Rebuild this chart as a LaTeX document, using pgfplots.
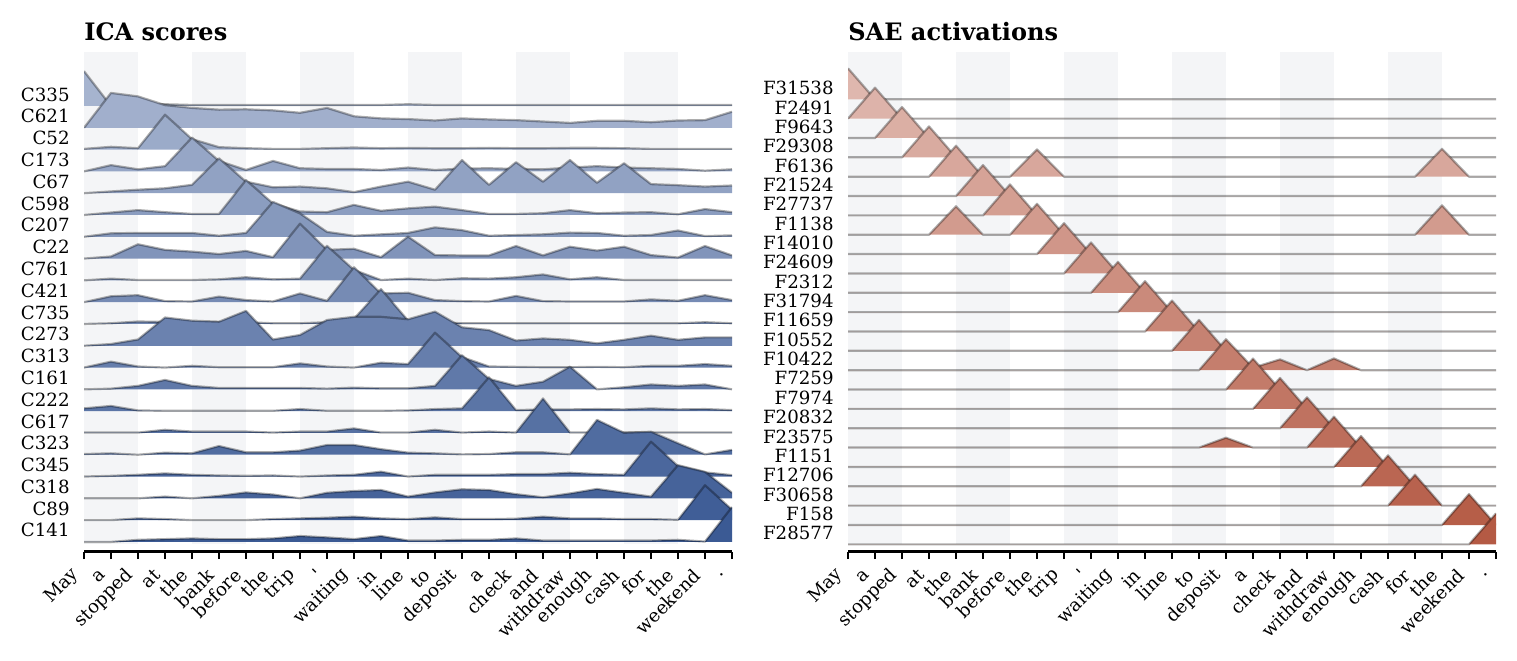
\documentclass[border=0pt]{standalone}
\usepackage{pgfplots}
\usepackage{pgfplotstable}
\pgfplotsset{compat=1.18}
\usepackage{fontspec}
\setmainfont{DejaVu Serif}

\definecolor{icaLight}{HTML}{A6B4CF}
\definecolor{icaDark}{HTML}{3B5A94}
\definecolor{saeLight}{HTML}{DFB7AE}
\definecolor{saeDark}{HTML}{B45A44}
\definecolor{band}{HTML}{F4F5F7}

\newcommand{\tickfont}{\fontsize{9.1pt}{11pt}\selectfont}

% ICA scores, one row per component, one column per token
\pgfplotstableread{
name t0 t1 t2 t3 t4 t5 t6 t7 t8 t9 t10 t11 t12 t13 t14 t15 t16 t17 t18 t19 t20 t21 t22 t23 t24
C335 1.00 0.00 0.05 0.05 0.03 0.03 0.03 0.03 0.03 0.03 0.03 0.03 0.05 0.03 0.03 0.03 0.03 0.03 0.03 0.03 0.03 0.03 0.03 0.03 0.03
C621 0.00 1.00 0.90 0.65 0.57 0.52 0.53 0.50 0.43 0.57 0.33 0.27 0.25 0.21 0.27 0.24 0.22 0.18 0.14 0.20 0.20 0.16 0.21 0.22 0.46
C52 0.02 0.08 0.04 1.00 0.30 0.07 0.04 0.02 0.02 0.04 0.06 0.04 0.05 0.04 0.04 0.05 0.04 0.04 0.05 0.05 0.04 0.02 0.02 0.02 0.02
C173 0.00 0.18 0.06 0.15 0.97 0.30 0.04 0.30 0.09 0.07 0.07 0.04 0.11 0.04 0.08 0.09 0.07 0.06 0.11 0.15 0.11 0.09 0.07 0.02 0.06
C67 0.00 0.05 0.10 0.14 0.24 1.00 0.33 0.17 0.19 0.14 0.03 0.19 0.33 0.10 0.95 0.24 0.89 0.33 0.95 0.30 0.86 0.26 0.23 0.19 0.22
C598 0.00 0.07 0.14 0.08 0.03 0.03 1.00 0.33 0.10 0.08 0.29 0.12 0.19 0.24 0.14 0.03 0.03 0.05 0.14 0.05 0.07 0.08 0.02 0.17 0.08
C207 0.00 0.10 0.11 0.11 0.11 0.03 0.11 1.00 0.67 0.14 0.03 0.07 0.11 0.27 0.19 0.03 0.05 0.07 0.12 0.11 0.03 0.05 0.18 0.02 0.04
C22 0.00 0.06 0.41 0.25 0.20 0.13 0.22 0.04 1.00 0.25 0.28 0.04 0.63 0.10 0.09 0.09 0.36 0.09 0.34 0.23 0.34 0.10 0.03 0.36 0.09
C761 0.00 0.05 0.01 0.01 0.01 0.03 0.09 0.03 0.05 0.99 0.30 0.01 0.05 0.01 0.06 0.05 0.09 0.17 0.03 0.09 0.01 0.01 0.01 0.01 0.01
C421 0.00 0.17 0.20 0.03 0.02 0.16 0.06 0.02 0.25 0.04 1.00 0.25 0.27 0.06 0.03 0.02 0.18 0.03 0.02 0.02 0.02 0.08 0.04 0.20 0.06
C735 0.00 0.02 0.07 0.06 0.05 0.05 0.05 0.02 0.02 0.05 0.15 1.00 0.10 0.05 0.02 0.02 0.02 0.02 0.02 0.02 0.02 0.02 0.02 0.05 0.02
C273 0.00 0.05 0.18 0.81 0.72 0.69 1.00 0.18 0.31 0.74 0.83 0.83 0.76 0.98 0.53 0.45 0.15 0.21 0.17 0.07 0.17 0.29 0.17 0.24 0.24
C313 0.00 0.17 0.03 0.00 0.05 0.01 0.01 0.01 0.12 0.03 0.00 0.14 0.10 1.00 0.30 0.03 0.02 0.01 0.01 0.02 0.01 0.05 0.05 0.10 0.05
C161 0.00 0.02 0.10 0.27 0.10 0.04 0.04 0.04 0.04 0.02 0.05 0.03 0.03 0.10 0.98 0.30 0.10 0.22 0.65 0.00 0.06 0.14 0.10 0.14 0.00
C222 0.08 0.15 0.02 0.01 0.01 0.01 0.01 0.01 0.06 0.01 0.01 0.01 0.02 0.06 0.08 0.97 0.03 0.05 0.05 0.06 0.05 0.08 0.05 0.06 0.03
C617 0.01 0.01 0.01 0.09 0.04 0.04 0.04 0.01 0.04 0.04 0.13 0.01 0.01 0.09 0.01 0.04 0.01 0.99 0.01 0.01 0.01 0.01 0.01 0.01 0.01
C323 0.02 0.04 0.00 0.06 0.04 0.25 0.07 0.07 0.12 0.28 0.28 0.16 0.06 0.04 0.01 0.02 0.07 0.07 0.01 1.00 0.63 0.66 0.33 0.01 0.14
C345 0.00 0.02 0.05 0.09 0.05 0.03 0.02 0.03 0.00 0.03 0.05 0.14 0.00 0.05 0.05 0.05 0.07 0.07 0.11 0.07 0.05 1.00 0.30 0.12 0.04
C318 0.00 0.00 0.00 0.05 0.00 0.07 0.17 0.11 0.00 0.16 0.21 0.24 0.05 0.17 0.26 0.24 0.12 0.03 0.14 0.27 0.16 0.05 0.95 0.76 0.16
C89 0.00 0.00 0.05 0.03 0.00 0.00 0.00 0.03 0.05 0.07 0.10 0.05 0.03 0.08 0.03 0.03 0.04 0.10 0.05 0.05 0.03 0.03 0.01 1.00 0.30
C141 0.00 0.00 0.06 0.08 0.10 0.08 0.08 0.10 0.17 0.13 0.08 0.17 0.04 0.04 0.06 0.06 0.10 0.04 0.04 0.04 0.04 0.04 0.06 0.01 1.00
}\icarows
\pgfplotstabletranspose[colnames from=name]\icadata\icarows

% SAE activations, one row per feature, one column per token
\pgfplotstableread{
name t0 t1 t2 t3 t4 t5 t6 t7 t8 t9 t10 t11 t12 t13 t14 t15 t16 t17 t18 t19 t20 t21 t22 t23 t24
F31538 1 0 0 0 0 0 0 0 0 0 0 0 0 0 0 0 0 0 0 0 0 0 0 0 0
F2491  0 1 0 0 0 0 0 0 0 0 0 0 0 0 0 0 0 0 0 0 0 0 0 0 0
F9643  0 0 1 0 0 0 0 0 0 0 0 0 0 0 0 0 0 0 0 0 0 0 0 0 0
F29308 0 0 0 1 0 0 0 0 0 0 0 0 0 0 0 0 0 0 0 0 0 0 0 0 0
F6136  0 0 0 0 1 0 0 0.88 0 0 0 0 0 0 0 0 0 0 0 0 0 0 0.90 0 0
F21524 0 0 0 0 0 1 0 0 0 0 0 0 0 0 0 0 0 0 0 0 0 0 0 0 0
F27737 0 0 0 0 0 0 1 0 0 0 0 0 0 0 0 0 0 0 0 0 0 0 0 0 0
F1138  0 0 0 0 0.92 0 0 1 0 0 0 0 0 0 0 0 0 0 0 0 0 0 0.95 0 0
F14010 0 0 0 0 0 0 0 0 1 0 0 0 0 0 0 0 0 0 0 0 0 0 0 0 0
F24609 0 0 0 0 0 0 0 0 0 1 0 0 0 0 0 0 0 0 0 0 0 0 0 0 0
F2312  0 0 0 0 0 0 0 0 0 0 1 0 0 0 0 0 0 0 0 0 0 0 0 0 0
F31794 0 0 0 0 0 0 0 0 0 0 0 1 0 0 0 0 0 0 0 0 0 0 0 0 0
F11659 0 0 0 0 0 0 0 0 0 0 0 0 1 0 0 0 0 0 0 0 0 0 0 0 0
F10552 0 0 0 0 0 0 0 0 0 0 0 0 0 1 0 0 0 0 0 0 0 0 0 0 0
F10422 0 0 0 0 0 0 0 0 0 0 0 0 0 0 1 0.08 0.35 0 0.38 0 0 0 0 0 0
F7259  0 0 0 0 0 0 0 0 0 0 0 0 0 0 0 1 0 0 0 0 0 0 0 0 0
F7974  0 0 0 0 0 0 0 0 0 0 0 0 0 0 0 0 1 0 0 0 0 0 0 0 0
F20832 0 0 0 0 0 0 0 0 0 0 0 0 0 0 0 0 0 1 0 0 0 0 0 0 0
F23575 0 0 0 0 0 0 0 0 0 0 0 0 0 0 0.32 0 0 0 1 0 0 0 0 0 0
F1151  0 0 0 0 0 0 0 0 0 0 0 0 0 0 0 0 0 0 0 1 0 0 0 0 0
F12706 0 0 0 0 0 0 0 0 0 0 0 0 0 0 0 0 0 0 0 0 1 0 0 0 0
F30658 0 0 0 0 0 0 0 0 0 0 0 0 0 0 0 0 0 0 0 0 0 1 0 0 0
F158   0 0 0 0 0 0 0 0 0 0 0 0 0 0 0 0 0 0 0 0 0 0 0 1 0
F28577 0 0 0 0 0 0 0 0 0 0 0 0 0 0 0 0 0 0 0 0 0 0 0 0 1
}\saerows
\pgfplotstabletranspose[colnames from=name]\saedata\saerows

\tikzset{ridgeline/.style={draw=black, draw opacity=0.32, line width=1.1pt, line join=round, fill=none}}

% one ridge: #1 table, #2 column, #3 row number (baseline at -#3), #4 fill colour
\newcommand{\ridge}[4]{%
  \addplot[draw=none, fill=#4] table[x expr=\coordindex, y expr={1.6*\thisrow{#2}-#3}] {#1} |- (axis cs:0,-#3) -- cycle;
  \addplot[ridgeline] table[x expr=\coordindex, y expr={1.6*\thisrow{#2}-#3}] {#1};
}

\pgfplotsset{
  ridgeaxis/.style={
    scale only axis, width=324pt, height=249.75pt,
    anchor=south west,
    xmin=0, xmax=24,
    axis x line*=bottom, axis y line*=left,
    y axis line style={draw=none},
    x axis line style={line width=1.25pt, black},
    tick align=outside,
    major tick length=3.75pt,
    xtick={0,...,24},
    xticklabels={May,a,stopped,at,the,bank,before,the,trip,\textquotesingle,waiting,in,line,to,deposit,a,check,and,withdraw,enough,cash,for,the,weekend,.},
    xtick style={black, line width=1pt},
    ytick style={draw=none},
    xticklabel style={font=\tickfont, inner sep=0pt, xshift=-3.9pt, yshift=-6.5pt, rotate=45, anchor=east},
    yticklabel style={font=\tickfont, inner sep=0pt, xshift=-3.25pt},
    no markers,
  },
}

\begin{document}
\begin{tikzpicture}
\useasboundingbox (0,0) rectangle (758.5pt,-330pt);

\begin{axis}[ridgeaxis, at={(42pt,-275.75pt)},
  ymin=-20.44, ymax=2.477,
  ytick={-19.47,-18.47,-17.47,-16.47,-15.47,-14.47,-13.47,-12.47,-11.47,-10.47,-9.47,-8.47,-7.47,-6.47,-5.47,-4.47,-3.47,-2.47,-1.47,-0.47,0.53},
  yticklabels={C141,C89,C318,C345,C323,C617,C222,C161,C313,C273,C735,C421,C761,C22,C207,C598,C67,C173,C52,C621,C335},
]
\fill[band] (axis cs:0,-20.09) rectangle (axis cs:2,5);
\fill[band] (axis cs:4,-20.09) rectangle (axis cs:6,5);
\fill[band] (axis cs:8,-20.09) rectangle (axis cs:10,5);
\fill[band] (axis cs:12,-20.09) rectangle (axis cs:14,5);
\fill[band] (axis cs:16,-20.09) rectangle (axis cs:18,5);
\fill[band] (axis cs:20,-20.09) rectangle (axis cs:22,5);
\ridge{\icadata}{C335}{0}{icaDark!0!icaLight}
\ridge{\icadata}{C621}{1}{icaDark!5!icaLight}
\ridge{\icadata}{C52}{2}{icaDark!10!icaLight}
\ridge{\icadata}{C173}{3}{icaDark!15!icaLight}
\ridge{\icadata}{C67}{4}{icaDark!20!icaLight}
\ridge{\icadata}{C598}{5}{icaDark!25!icaLight}
\ridge{\icadata}{C207}{6}{icaDark!30!icaLight}
\ridge{\icadata}{C22}{7}{icaDark!35!icaLight}
\ridge{\icadata}{C761}{8}{icaDark!40!icaLight}
\ridge{\icadata}{C421}{9}{icaDark!45!icaLight}
\ridge{\icadata}{C735}{10}{icaDark!50!icaLight}
\ridge{\icadata}{C273}{11}{icaDark!55!icaLight}
\ridge{\icadata}{C313}{12}{icaDark!60!icaLight}
\ridge{\icadata}{C161}{13}{icaDark!65!icaLight}
\ridge{\icadata}{C222}{14}{icaDark!70!icaLight}
\ridge{\icadata}{C617}{15}{icaDark!75!icaLight}
\ridge{\icadata}{C323}{16}{icaDark!80!icaLight}
\ridge{\icadata}{C345}{17}{icaDark!85!icaLight}
\ridge{\icadata}{C318}{18}{icaDark!90!icaLight}
\ridge{\icadata}{C89}{19}{icaDark!95!icaLight}
\ridge{\icadata}{C141}{20}{icaDark!100!icaLight}
\end{axis}

\begin{axis}[ridgeaxis, at={(424pt,-275.75pt)},
  ymin=-23.37, ymax=2.444,
  ytick={-22.42,-21.42,-20.42,-19.42,-18.42,-17.42,-16.42,-15.42,-14.42,-13.42,-12.42,-11.42,-10.42,-9.42,-8.42,-7.42,-6.42,-5.42,-4.42,-3.42,-2.42,-1.42,-0.42,0.58},
  yticklabels={F28577,F158,F30658,F12706,F1151,F23575,F20832,F7974,F7259,F10422,F10552,F11659,F31794,F2312,F24609,F14010,F1138,F27737,F21524,F6136,F29308,F9643,F2491,F31538},
]
\fill[band] (axis cs:0,-22.98) rectangle (axis cs:2,5);
\fill[band] (axis cs:4,-22.98) rectangle (axis cs:6,5);
\fill[band] (axis cs:8,-22.98) rectangle (axis cs:10,5);
\fill[band] (axis cs:12,-22.98) rectangle (axis cs:14,5);
\fill[band] (axis cs:16,-22.98) rectangle (axis cs:18,5);
\fill[band] (axis cs:20,-22.98) rectangle (axis cs:22,5);
\ridge{\saedata}{F31538}{0}{saeDark!0!saeLight}
\ridge{\saedata}{F2491}{1}{saeDark!4!saeLight}
\ridge{\saedata}{F9643}{2}{saeDark!9!saeLight}
\ridge{\saedata}{F29308}{3}{saeDark!13!saeLight}
\ridge{\saedata}{F6136}{4}{saeDark!17!saeLight}
\ridge{\saedata}{F21524}{5}{saeDark!22!saeLight}
\ridge{\saedata}{F27737}{6}{saeDark!26!saeLight}
\ridge{\saedata}{F1138}{7}{saeDark!30!saeLight}
\ridge{\saedata}{F14010}{8}{saeDark!35!saeLight}
\ridge{\saedata}{F24609}{9}{saeDark!39!saeLight}
\ridge{\saedata}{F2312}{10}{saeDark!43!saeLight}
\ridge{\saedata}{F31794}{11}{saeDark!48!saeLight}
\ridge{\saedata}{F11659}{12}{saeDark!52!saeLight}
\ridge{\saedata}{F10552}{13}{saeDark!57!saeLight}
\ridge{\saedata}{F10422}{14}{saeDark!61!saeLight}
\ridge{\saedata}{F7259}{15}{saeDark!65!saeLight}
\ridge{\saedata}{F7974}{16}{saeDark!70!saeLight}
\ridge{\saedata}{F20832}{17}{saeDark!74!saeLight}
\ridge{\saedata}{F23575}{18}{saeDark!78!saeLight}
\ridge{\saedata}{F1151}{19}{saeDark!83!saeLight}
\ridge{\saedata}{F12706}{20}{saeDark!87!saeLight}
\ridge{\saedata}{F30658}{21}{saeDark!91!saeLight}
\ridge{\saedata}{F158}{22}{saeDark!96!saeLight}
\ridge{\saedata}{F28577}{23}{saeDark!100!saeLight}
\end{axis}

\node[anchor=base west, inner sep=0pt, font=\fontsize{12pt}{14pt}\selectfont\bfseries] at (42pt,-20.35pt) {ICA scores};
\node[anchor=base west, inner sep=0pt, font=\fontsize{12pt}{14pt}\selectfont\bfseries] at (424pt,-20.35pt) {SAE activations};
\end{tikzpicture}
\end{document}
